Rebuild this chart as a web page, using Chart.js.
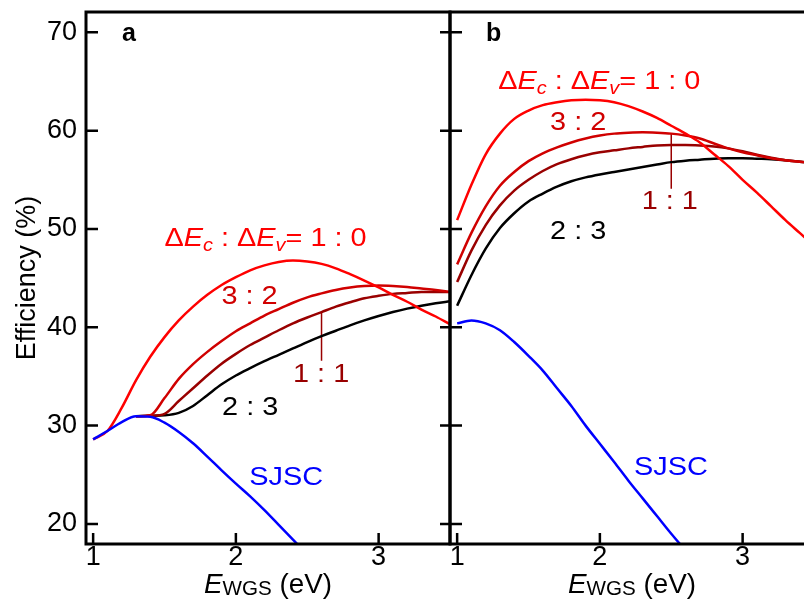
<!DOCTYPE html>
<html>
<head>
<meta charset="utf-8">
<script src="https://cdn.jsdelivr.net/npm/chart.js@4.4.1/dist/chart.umd.min.js"></script>
<style>
  html, body { margin: 0; padding: 0; background: #fff; overflow: hidden; }
  #wrap { position: relative; width: 804px; height: 601px; overflow: hidden; }
  #panelA { position: absolute; left: 0; top: 0; }
  #panelB { position: absolute; left: 440px; top: 0; }
</style>
</head>
<body>
<div id="wrap">
  <canvas id="panelA" width="460" height="601"></canvas>
  <canvas id="panelB" width="380" height="601"></canvas>
</div>
<script>
// energy grid (eV) shared by all curves
var eGrid = [1.0, 1.1, 1.2, 1.3, 1.4, 1.5, 1.6, 1.7, 1.8, 1.9, 2.0, 2.1, 2.2,
             2.3, 2.4, 2.5, 2.6, 2.7, 2.8, 2.9, 3.0, 3.1, 3.2, 3.3, 3.4, 3.5];

// panel a efficiencies (%)
var sjscA    = [28.6, 29.45, 30.35, 30.95, 30.9, 30.3, 29.35, 28.2, 26.85, 25.45, 24.1, 22.8, 21.4,
                19.9, 18.4, 16.9, null, null, null, null, null, null, null, null, null, null];
var ratio10A = [28.6, 29.45, 31.8, 34.6, 37.0, 39.0, 40.7, 42.1, 43.3, 44.3, 45.1, 45.8, 46.3,
                46.65, 46.8, 46.7, 46.45, 46.0, 45.4, 44.75, 44.05, 43.3, 42.6, 41.8, 41.1, 40.3];
var ratio32A = [null, null, null, 30.95, 31.05, 32.8, 34.75, 36.25, 37.5, 38.6, 39.6, 40.4, 41.2,
                41.85, 42.5, 43.05, 43.45, 43.8, 44.05, 44.2, 44.25, 44.2, 44.1, 43.95, 43.8, 43.6];
var ratio11A = [null, null, null, 30.95, 31.0, 31.2, 32.5, 33.8, 35.1, 36.3, 37.3, 38.2, 38.95,
                39.7, 40.4, 41.0, 41.55, 42.1, 42.55, 42.95, 43.2, 43.4, 43.5, 43.6, 43.6, 43.6];
var ratio23A = [null, null, null, 30.95, 31.0, 31.05, 31.3, 32.0, 33.1, 34.2, 35.1, 35.85, 36.55,
                37.2, 37.85, 38.5, 39.1, 39.65, 40.2, 40.7, 41.15, 41.55, 41.9, 42.2, 42.45, 42.65];

// panel b efficiencies (%)
var sjscB    = [40.4, 40.7, 40.4, 39.7, 38.5, 37.1, 35.6, 33.8, 32.0, 30.0, 28.15, 26.3, 24.4,
                22.6, 20.8, 19.0, 17.3, null, null, null, null, null, null, null, null, null];
var ratio10B = [50.9, 54.5, 57.6, 59.7, 61.2, 62.05, 62.6, 62.9, 63.1, 63.15, 63.1, 62.9, 62.5,
                61.95, 61.3, 60.5, 59.7, 58.8, 57.6, 56.4, 55.0, 53.7, 52.3, 50.9, 49.6, 48.3];
var ratio32B = [46.4, 49.6, 52.3, 54.4, 55.8, 56.9, 57.7, 58.3, 58.8, 59.2, 59.5, 59.7, 59.8,
                59.85, 59.8, 59.7, 59.5, 59.2, 58.7, 58.2, 57.8, 57.5, 57.2, 57.0, 56.85, 56.7];
var ratio11B = [44.6, 47.8, 50.4, 52.4, 53.9, 55.0, 55.9, 56.6, 57.1, 57.5, 57.8, 58.0, 58.2,
                58.35, 58.5, 58.55, 58.55, 58.5, 58.4, 58.2, 57.9, 57.55, 57.25, 57.0, 56.85, 56.7];
var ratio23B = [42.2, 45.3, 48.0, 50.1, 51.6, 52.8, 53.6, 54.3, 54.85, 55.25, 55.55, 55.8, 56.05,
                56.3, 56.55, 56.8, 56.95, 57.05, 57.15, 57.2, 57.2, 57.15, 57.1, 57.0, 56.85, 56.7];

// "1 : 1" leader lines
var leaderAx = [2.6, 2.6],  leaderAy = [41.55, 36.6];
var leaderBx = [2.5, 2.5],  leaderBy = [59.7, 54.1];

// ticks
var xTicks = [1, 2, 3];
var yTicks = [20, 30, 40, 50, 60, 70];

// curve labels: [key, centre x, baseline y]
var notesA = [['ratio', 2.208, 48.23], ['3 : 2', 2.096, 42.33], ['1 : 1', 2.597, 34.4],
              ['2 : 3', 2.10, 31.04], ['SJSC', 2.352, 24.0]];
var notesB = [['ratio', 1.996, 64.2], ['3 : 2', 1.848, 60.03], ['1 : 1', 2.49, 51.99],
              ['2 : 3', 1.848, 48.94], ['SJSC', 2.498, 24.93]];

var FAMILY = '"Liberation Sans", Arial, Helvetica, sans-serif';
var C10 = '#ff0000', C32 = '#d00000', C11 = '#990000', C23 = '#000000', CSJ = '#0000ff';
var noteColor = { 'ratio': C10, '3 : 2': C32, '1 : 1': C11, '2 : 3': C23, 'SJSC': CSJ };

Chart.defaults.font.family = FAMILY;
Chart.defaults.color = '#000';

function series(ys, color) {
  return {
    data: eGrid.map(function (x, i) { return { x: x, y: ys[i] }; }),
    borderColor: color, borderWidth: 2.5, pointRadius: 0,
    cubicInterpolationMode: 'monotone', fill: false
  };
}

function leader(xs, ys) {
  return {
    data: xs.map(function (x, i) { return { x: x, y: ys[i] }; }),
    borderColor: C11, borderWidth: 1.5, pointRadius: 0, tension: 0, fill: false
  };
}

// parts: [text, italic, size factor, baseline shift]; sx stretches text horizontally
function drawRich(ctx, parts, x, y, size, color, sx) {
  var widths = [], total = 0;
  parts.forEach(function (p) {
    ctx.font = (p[1] ? 'italic ' : '') + Math.round(size * p[2]) + 'px ' + FAMILY;
    var w = ctx.measureText(p[0]).width;
    widths.push(w); total += w;
  });
  ctx.save();
  ctx.translate(x - total * sx / 2, y);
  ctx.scale(sx, 1);
  ctx.fillStyle = color;
  ctx.textAlign = 'left';
  ctx.textBaseline = 'alphabetic';
  var cx = 0;
  parts.forEach(function (p, i) {
    ctx.font = (p[1] ? 'italic ' : '') + Math.round(size * p[2]) + 'px ' + FAMILY;
    ctx.fillText(p[0], cx, p[3]);
    cx += widths[i];
  });
  ctx.restore();
}

var ratioParts = [['\u0394', false, 1, 0], ['E', true, 1, 0], ['c', true, 0.7, 5],
                  [' : \u0394', false, 1, 0], ['E', true, 1, 0], ['v', true, 0.7, 5],
                  ['= 1 : 0', false, 1, 0]];
var xTitleParts = [['E', true, 1, 0], ['WGS', false, 0.75, 2], [' (eV)', false, 1, 0]];

var decor = {
  id: 'decor',
  afterDraw: function (chart, args, o) {
    var ctx = chart.ctx, a = chart.chartArea, xs = chart.scales.x, ys = chart.scales.y;
    ctx.save();
    ctx.strokeStyle = '#000';
    ctx.lineCap = 'butt';
    ctx.lineWidth = 2.5;
    ctx.beginPath();
    xTicks.forEach(function (v) {
      var px = xs.getPixelForValue(v);
      ctx.moveTo(px, a.bottom); ctx.lineTo(px, a.bottom - 11);
    });
    yTicks.forEach(function (v) {
      var py = ys.getPixelForValue(v);
      ctx.moveTo(a.left, py); ctx.lineTo(a.left + 12, py);
      if (o.rightTicks) { ctx.moveTo(a.right - 10, py); ctx.lineTo(a.right, py); }
    });
    ctx.stroke();
    ctx.lineWidth = 3;
    ctx.strokeRect(a.left, a.top, a.right - a.left, a.bottom - a.top);

    // panel letter
    ctx.fillStyle = '#000';
    ctx.font = 'bold 25px ' + FAMILY;
    ctx.textAlign = 'left';
    ctx.textBaseline = 'alphabetic';
    ctx.fillText(o.letter, a.left + o.letterDx, a.top + 29);

    // curve labels
    o.notes.forEach(function (n) {
      var px = xs.getPixelForValue(n[1]), py = ys.getPixelForValue(n[2]);
      var parts = n[0] === 'ratio' ? ratioParts : [[n[0], false, 1, 0]];
      drawRich(ctx, parts, px, py, 26, noteColor[n[0]], 1.11);
    });

    // x title
    drawRich(ctx, xTitleParts, (a.left + a.right) / 2, 593, 27, '#000', 1.03);

    // y title
    if (o.yTitle) {
      ctx.translate(35, (a.top + a.bottom) / 2);
      ctx.rotate(-Math.PI / 2);
      ctx.font = '27px ' + FAMILY;
      ctx.fillStyle = '#000';
      ctx.textAlign = 'center';
      ctx.fillText(o.yTitle, 0, 0);
    }
    ctx.restore();
  }
};

function makePanel(id, datasets, yWidth, padRight, showYLabels, decorOpts) {
  return new Chart(document.getElementById(id), {
    type: 'line',
    data: { datasets: datasets },
    plugins: [decor],
    options: {
      responsive: false,
      animation: false,
      devicePixelRatio: 1,
      events: [],
      layout: { padding: { top: 12, right: padRight, left: 0, bottom: 0 } },
      plugins: { legend: { display: false }, tooltip: { enabled: false }, decor: decorOpts },
      scales: {
        x: {
          type: 'linear', min: 0.95, max: 3.5,
          grid: { display: false, drawTicks: false }, border: { display: false },
          ticks: { font: { size: 27, lineHeight: 1 }, padding: 0, maxRotation: 0, autoSkip: false },
          afterBuildTicks: function (s) { s.ticks = xTicks.map(function (v) { return { value: v }; }); },
          afterFit: function (s) { s.height = 57; s.paddingLeft = 0; s.paddingRight = 0; }
        },
        y: {
          type: 'linear', min: 17.96, max: 72.07,
          grid: { display: false, drawTicks: false }, border: { display: false },
          ticks: { display: showYLabels, font: { size: 27, lineHeight: 1 }, padding: 9, autoSkip: false },
          afterBuildTicks: function (s) { s.ticks = yTicks.map(function (v) { return { value: v }; }); },
          afterFit: function (s) { s.width = yWidth; s.paddingTop = 0; s.paddingBottom = 0; }
        }
      }
    }
  });
}

makePanel('panelA', [
  series(sjscA, CSJ), series(ratio10A, C10), series(ratio32A, C32),
  series(ratio11A, C11), series(ratio23A, C23), leader(leaderAx, leaderAy)
], 86, 10, true, { letter: 'a', letterDx: 36, notes: notesA, rightTicks: true, yTitle: 'Efficiency (%)' });

makePanel('panelB', [
  series(sjscB, CSJ), series(ratio10B, C10), series(ratio32B, C32),
  series(ratio11B, C11), series(ratio23B, C23), leader(leaderBx, leaderBy)
], 10, 6, false, { letter: 'b', letterDx: 36, notes: notesB, rightTicks: false, yTitle: null });
</script>
</body>
</html>
